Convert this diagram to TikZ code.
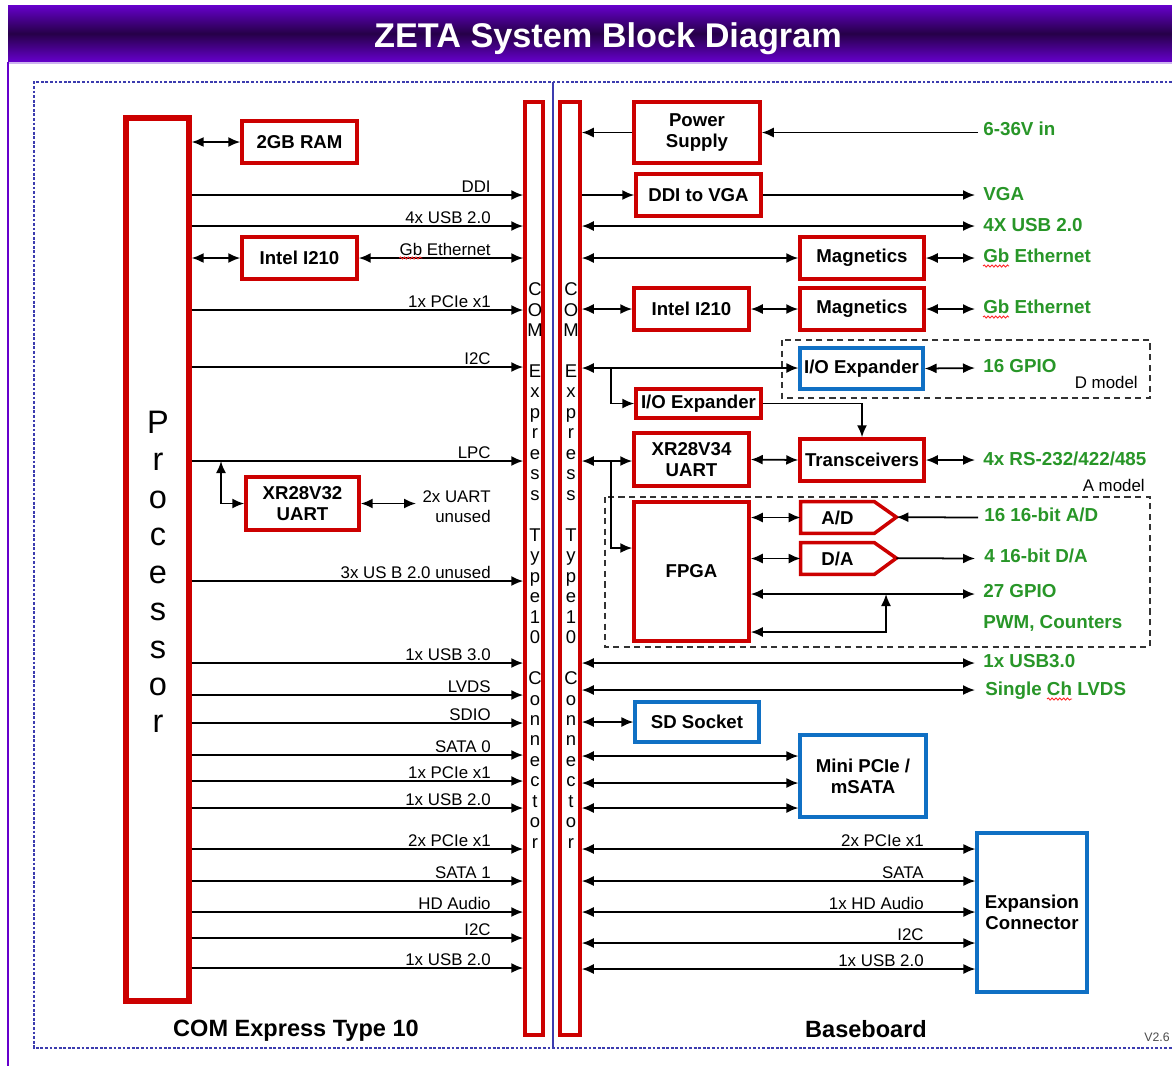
\documentclass[tikz,border=0pt]{standalone}
\usepackage{fontspec}
\setmainfont{Liberation Sans}
\usepackage{tikz}
\usetikzlibrary{positioning,arrows.meta,calc,decorations.pathmorphing}
\definecolor{zred}{RGB}{204,0,0}
\definecolor{zblue}{RGB}{16,112,196}
\definecolor{zgreen}{RGB}{40,150,40}
\definecolor{zpurple}{RGB}{102,0,204}
\definecolor{zdark}{RGB}{38,0,72}
\definecolor{zframe}{RGB}{60,60,175}
\definecolor{zlav}{RGB}{205,180,240}
\newcommand{\boxfont}{\bfseries\fontsize{10.6}{12}\selectfont}
\newcommand{\lblfont}{\fontsize{9.6}{11.3}\selectfont}
\newcommand{\comxtext}{C\\O\\M\\~\\E\\x\\p\\r\\e\\s\\s\\~\\T\\y\\p\\e\\1\\0\\~\\C\\o\\n\\n\\e\\c\\t\\o\\r}
\tikzset{
  redbox/.style={draw=zred, line width=2pt, fill=white, inner sep=0pt, align=center, font=\boxfont},
  bluebox/.style={redbox, draw=zblue, line width=1.8pt},
  procbox/.style={draw=zred, line width=3pt, inner sep=0pt},
  conbox/.style={draw=zred, line width=2pt, inner sep=0pt},
  context/.style={align=center, inner sep=0pt, font=\fontsize{10.5}{11.65}\selectfont},
  proctext/.style={align=center, inner sep=0pt, font=\fontsize{18.5}{21.3}\selectfont},
  adbody/.style={inner sep=0pt, minimum width=1.46cm, minimum height=0.62cm, font=\boxfont},
  adline/.style={draw=zred, line width=2pt, line join=miter},
  sig/.style={-{Latex[length=2.4mm,width=2mm]}, line width=1pt},
  bisig/.style={{Latex[length=2.4mm,width=2mm]}-{Latex[length=2.4mm,width=2mm]}, line width=1pt},
  lbl/.style={anchor=base east, inner sep=0pt, font=\lblfont},
  portlbl/.style={anchor=base west, inner sep=0pt, text=zgreen, font=\bfseries\fontsize{10.7}{12}\selectfont},
  modelbox/.style={draw=black!80, line width=0.9pt, dash pattern=on 3.5pt off 2.5pt},
  boardlbl/.style={anchor=base, inner sep=0pt, font=\bfseries\fontsize{13.4}{15}\selectfont},
  squig/.style={draw=red!85, line width=0.5pt, decorate, decoration={snake, segment length=2.2pt, amplitude=0.6pt}}
}

\begin{document}
\begin{tikzpicture}[x=0.02cm, y=-0.02cm]
  \useasboundingbox (0,0) rectangle (1172,1066);
  \fill[white] (0,0) rectangle (1172,1066);
  % title bar and page frame
  \shade[top color=zpurple, bottom color=zpurple, middle color=zdark] (8,5) rectangle (1172,62);
  \node[text=white, inner sep=0pt, anchor=base, font=\bfseries\fontsize{19.5}{22}\selectfont] (title) at (608,47) {ZETA System Block Diagram};
  \draw[zlav, line width=1pt] (9,63) -- (1172,63);
  \draw[zpurple, line width=1.6pt] (8,62) -- (8,1066);
  \draw[zframe, line width=0.8pt, dash pattern=on 1.6pt off 1pt] (1172,82) -- (34,82) -- (34,1048) -- (1172,1048);
  \draw[zframe, line width=0.6pt] (553,82) -- (553,1048);

  % COM Express module
  \node[procbox, minimum width=1.26cm, minimum height=17.66cm] (proc) at (157.5,559.5) {};
  \node[proctext] (proclbl) at (158,572) {P\\r\\o\\c\\e\\s\\s\\o\\r};
  \node[conbox, minimum width=0.36cm, minimum height=18.66cm] (lcon) at (534,568.5) {};
  \node[context] (lconlbl) at (535,565.5) {\comxtext};
  \node[conbox, minimum width=0.40cm, minimum height=18.66cm] (rcon) at (570,568.5) {};
  \node[context] (rconlbl) at (571,565.5) {\comxtext};
  \node[redbox, minimum width=2.3cm, minimum height=0.84cm] (ram) at (299.5,142) {2GB RAM};
  \node[redbox, minimum width=2.3cm, minimum height=0.84cm] (i210l) at (299.5,258) {Intel I210};
  \node[redbox, minimum width=2.26cm, minimum height=1.06cm] (xr32) at (302.5,503.5) {XR28V32\\UART};

  \draw[bisig] (proc.east |- ram.west) -- (ram.west);
  \draw[bisig] (proc.east |- i210l.west) -- (i210l.west);
  \draw[bisig] (i210l.east) -- (lcon.west |- i210l.east);
  \node[lbl] (lgb) at (491,255) {Gb Ethernet};
  \draw[squig] (lgb.base west) ++(0,3) -- ++(23,0);
  \foreach \yy/\lab in {195/DDI, 226/4x USB 2.0, 310/1x PCIe x1, 367/I2C, 461/LPC,
      581/3x US B 2.0 unused, 663/1x USB 3.0, 695/LVDS, 723/SDIO, 755/SATA 0,
      781/1x PCIe x1, 808/1x USB 2.0, 849/2x PCIe x1, 881/SATA 1, 912/HD Audio,
      938/I2C, 968/1x USB 2.0} {
    \draw[sig] (proc.east |- 0,\yy) -- (lcon.west |- 0,\yy);
    \node[lbl] (l-\yy) at (491,\yy-3) {\lab};
  }
  \coordinate (lpcj) at (221,461);
  \coordinate (uartend) at (416,503.5);
  \draw[bisig] (lpcj) |- (xr32.west);
  \draw[bisig] (xr32.east) -- (uartend);
  \node[lbl, anchor=east, align=right] (uartlbl) at (491,507) {2x UART\\unused};
  \node[boardlbl] (comlbl) at (296,1036) {COM Express Type 10};

  % Baseboard
  \node[redbox, minimum width=2.52cm, minimum height=1.22cm] (psu) at (697,132.5) {Power\\Supply};
  \node[redbox, minimum width=2.5cm, minimum height=0.84cm] (dvga) at (698.5,195) {DDI to VGA};
  \node[redbox, minimum width=2.48cm, minimum height=0.84cm] (mag1) at (862,258) {Magnetics};
  \node[redbox, minimum width=2.3cm, minimum height=0.84cm] (i210r) at (691.5,309) {Intel I210};
  \node[redbox, minimum width=2.48cm, minimum height=0.84cm] (mag2) at (862,309) {Magnetics};
  \draw[modelbox] (782,340) rectangle (1150,398);
  \node[lbl] (dmodel) at (1138,388) {D model};
  \node[bluebox, minimum width=2.46cm, minimum height=0.82cm] (ioexpb) at (861.5,368.5) {I/O Expander};
  \node[redbox, minimum width=2.5cm, minimum height=0.58cm] (ioexpr) at (698.5,403.5) {I/O Expander};
  \node[redbox, minimum width=2.3cm, minimum height=1.06cm] (xr34) at (691.5,459.5) {XR28V34\\UART};
  \node[redbox, minimum width=2.48cm, minimum height=0.84cm] (trans) at (862,460) {Transceivers};
  \draw[modelbox] (605,497) rectangle (1150,647);
  \node[lbl] (amodel) at (1145,491) {A model};
  \node[redbox, minimum width=2.3cm, minimum height=2.78cm] (fpga) at (691.5,571.5) {FPGA};
  \node[adbody] (ad) at (837.5,517.5) {A/D};
  \draw[adline] (ad.north west) -- (ad.north east) -- ++(22,15.5) coordinate (adtip)
    -- (ad.south east) -- (ad.south west) -- cycle;
  \node[adbody] (da) at (837.5,558.5) {D/A};
  \draw[adline] (da.north west) -- (da.north east) -- ++(22,15.5) coordinate (datip)
    -- (da.south east) -- (da.south west) -- cycle;
  \node[bluebox, minimum width=2.48cm, minimum height=0.8cm] (sdsock) at (697,722) {SD Socket};
  \node[bluebox, minimum width=2.52cm, minimum height=1.64cm] (minipcie) at (863,776) {Mini PCIe /\\mSATA};
  \node[bluebox, minimum width=2.2cm, minimum height=3.18cm] (expconn) at (1032,912.5) {Expansion\\Connector};

  % free ends of the baseboard ports
  \coordinate (pin) at (978,132.5);
  \coordinate (pvga) at (975,195);
  \coordinate (pusb) at (975,226);
  \coordinate (pgb1) at (975,258);
  \coordinate (pgb2) at (975,309);
  \coordinate (pgpio16) at (975,368);
  \coordinate (prs) at (975,460);
  \coordinate (pad) at (978,517.5);
  \coordinate (pda) at (975,558.5);
  \coordinate (pgpio27) at (975,594);
  \coordinate (pusb3) at (975,663);
  \coordinate (plvds) at (975,690);
  \coordinate (ioj) at (611,368);
  \coordinate (uj) at (611,461);
  \coordinate (gj) at (886,594);

  \draw[sig] (psu.west) -- (rcon.east |- psu.west);
  \draw[sig] (pin) -- (psu.east);
  \draw[sig] (rcon.east |- dvga.west) -- (dvga.west);
  \draw[sig] (dvga.east) -- (pvga);
  \draw[bisig] (rcon.east |- pusb) -- (pusb);
  \draw[bisig] (rcon.east |- mag1.west) -- (mag1.west);
  \draw[bisig] (mag1.east) -- (pgb1);
  \draw[bisig] (rcon.east |- i210r.west) -- (i210r.west);
  \draw[bisig] (i210r.east) -- (mag2.west);
  \draw[bisig] (mag2.east) -- (pgb2);
  \draw[bisig] (rcon.east |- ioj) -- (ioexpb.west |- ioj);
  \draw[sig] (ioj) |- (ioexpr.west);
  \draw[bisig] (ioexpb.east) -- (pgpio16);
  \draw[sig] (ioexpr.east) -| (trans.north);
  \draw[bisig] (rcon.east |- uj) -- (xr34.west |- uj);
  \draw[sig] (uj) |- (fpga.west |- 0,548);
  \draw[bisig] (xr34.east) -- (trans.west);
  \draw[bisig] (trans.east) -- (prs);
  \draw[bisig] (fpga.east |- ad.west) -- (ad.west);
  \draw[sig] (pad) -- (adtip);
  \draw[bisig] (fpga.east |- da.west) -- (da.west);
  \draw[sig] (datip) -- (pda);
  \draw[bisig] (fpga.east |- pgpio27) -- (pgpio27);
  \draw[bisig] (fpga.east |- 0,632) -| (gj);
  \draw[bisig] (rcon.east |- pusb3) -- (pusb3);
  \draw[bisig] (rcon.east |- plvds) -- (plvds);
  \draw[bisig] (rcon.east |- sdsock.west) -- (sdsock.west);
  \foreach \yy in {756,783,808}
    \draw[bisig] (rcon.east |- 0,\yy) -- (minipcie.west |- 0,\yy);
  \foreach \yy/\lab in {849/2x PCIe x1, 881/SATA, 912/1x HD Audio, 943/I2C, 969/1x USB 2.0} {
    \draw[bisig] (rcon.east |- 0,\yy) -- (expconn.west |- 0,\yy);
    \node[lbl] (r-\yy) at (924,\yy-3) {\lab};
  }

  % port names
  \node[portlbl] (t-pin) at (983,135) {6-36V in};
  \node[portlbl] (t-vga) at (983,200) {VGA};
  \node[portlbl] (t-usb) at (983,231) {4X USB 2.0};
  \node[portlbl] (t-gb1) at (983,262) {Gb Ethernet};
  \node[portlbl] (t-gb2) at (983,313) {Gb Ethernet};
  \node[portlbl] (t-gpio16) at (983,372) {16 GPIO};
  \node[portlbl] (t-rs) at (983,465) {4x RS-232/422/485};
  \node[portlbl] (t-ad) at (984,521) {16 16-bit A/D};
  \node[portlbl] (t-da) at (984,562) {4 16-bit D/A};
  \node[portlbl] (t-gpio27) at (983,597) {27 GPIO};
  \node[portlbl] (t-pwm) at (983,628) {PWM, Counters};
  \node[portlbl] (t-usb3) at (983,667) {1x USB3.0};
  \node[portlbl] (t-lvds) at (985,695) {Single Ch LVDS};
  \draw[squig] (t-gb1.base west) ++(0,4) -- ++(26,0);
  \draw[squig] (t-gb2.base west) ++(0,4) -- ++(26,0);
  \draw[squig] (t-lvds.base west) ++(62,4) -- ++(25,0);
  \node[boardlbl] (baselbl) at (866,1037) {Baseboard};
  \node[anchor=base east, inner sep=0pt, text=black!70, font=\fontsize{7}{8}\selectfont] (ver) at (1170,1041) {V2.6};
\end{tikzpicture}
\end{document}
